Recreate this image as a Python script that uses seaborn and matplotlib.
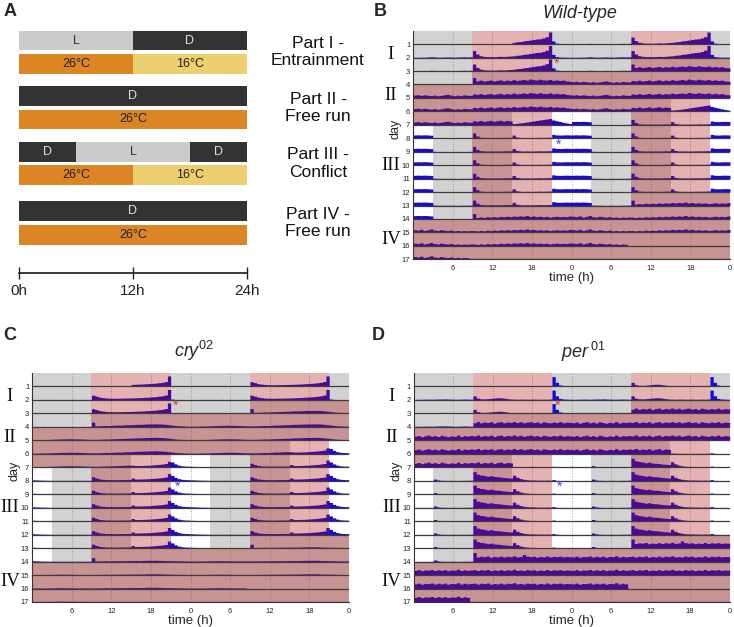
import numpy as np
import seaborn as sns
import matplotlib.pyplot as plt
from matplotlib import transforms

W, H = 734, 627

# ---- panel A: protocol ----
PARTS = ["Part I -\nEntrainment", "Part II -\nFree run", "Part III -\nConflict", "Part IV -\nFree run"]
LIGHT_SCHED = [[("L", 0, 12), ("D", 12, 24)],
               [("D", 0, 24)],
               [("D", 0, 6), ("L", 6, 18), ("D", 18, 24)],
               [("D", 0, 24)]]
TEMP_SCHED = [[(26, 0, 12), (16, 12, 24)],
              [(26, 0, 24)],
              [(26, 0, 12), (16, 12, 24)],
              [(26, 0, 24)]]

# ---- actogram backgrounds, per day 1..18 (plot hours 0-24) ----
DARK_SPANS = [[(0, 9), (21, 24)]] * 3 + [[(0, 24)]] * 3 + [[(0, 15)]] + [[(3, 15)]] * 6 + [[(3, 24)]] + [[(0, 24)]] * 4
WARM_SPANS = [[(9, 21)]] * 3 + [[(9, 24)]] + [[(0, 24)]] * 2 + [[(0, 21)]] + [[(9, 21)]] * 6 + [[(9, 24)]] + [[(0, 24)]] * 4

# ---- activity profiles, 30-min bins, fraction of row height ----
WT_LD = [0.02, 0.02, 0.03, 0.03, 0.04, 0.06, 0.05, 0.03, 0.03, 0.04, 0.05, 0.04, 0.03, 0.04, 0.05, 0.06, 0.05, 0.06,
         0.55, 0.28, 0.15, 0.10, 0.08, 0.08, 0.07, 0.08, 0.10, 0.09, 0.10, 0.12, 0.14, 0.18, 0.20, 0.25, 0.28, 0.32,
         0.36, 0.40, 0.42, 0.48, 0.58, 0.95, 0.25, 0.08, 0.04, 0.03, 0.03, 0.02]
WT_DD = [0.22, 0.25, 0.20, 0.24, 0.21, 0.18, 0.22, 0.17, 0.20, 0.25, 0.28, 0.22, 0.17, 0.21, 0.18, 0.24, 0.21, 0.20,
         0.31, 0.28, 0.34, 0.27, 0.31, 0.35, 0.28, 0.32, 0.36, 0.29, 0.34, 0.31, 0.38, 0.32, 0.35, 0.39, 0.34, 0.42,
         0.38, 0.35, 0.41, 0.36, 0.34, 0.39, 0.32, 0.36, 0.31, 0.34, 0.28, 0.25]
WT_TC = [0.26, 0.27, 0.26, 0.27, 0.26, 0.24, 0.03, 0.02, 0.02, 0.02, 0.01, 0.02, 0.02, 0.01, 0.02, 0.02, 0.02, 0.03,
         0.42, 0.18, 0.08, 0.06, 0.05, 0.06, 0.05, 0.06, 0.05, 0.06, 0.07, 0.07, 0.25, 0.10, 0.06, 0.05, 0.06, 0.05,
         0.06, 0.06, 0.07, 0.06, 0.07, 0.08, 0.30, 0.26, 0.25, 0.26, 0.27, 0.26]
WT_FR = [0.21, 0.18, 0.24, 0.15, 0.20, 0.27, 0.18, 0.15, 0.21, 0.17, 0.14, 0.18, 0.12, 0.15, 0.11, 0.14, 0.12, 0.15,
         0.14, 0.11, 0.15, 0.12, 0.17, 0.14, 0.18, 0.15, 0.20, 0.17, 0.21, 0.18, 0.23, 0.20, 0.24, 0.21, 0.27, 0.20,
         0.23, 0.18, 0.21, 0.17, 0.20, 0.15, 0.18, 0.21, 0.17, 0.20, 0.18, 0.23]
WT_D7PM = [0.10, 0.12, 0.15, 0.18, 0.22, 0.26, 0.30, 0.34, 0.38, 0.42, 0.46, 0.50,
           0.38, 0.32, 0.26, 0.20, 0.15, 0.10]

CRY_LD = [0.01, 0.01, 0.01, 0.02, 0.01, 0.01, 0.02, 0.01, 0.01, 0.02, 0.01, 0.01, 0.02, 0.01, 0.01, 0.02, 0.01, 0.02,
          0.35, 0.28, 0.20, 0.16, 0.13, 0.12, 0.11, 0.11, 0.12, 0.12, 0.13, 0.13, 0.14, 0.15, 0.16, 0.17, 0.19, 0.20,
          0.22, 0.24, 0.27, 0.30, 0.36, 0.80, 0.05, 0.02, 0.01, 0.01, 0.01, 0.01]
CRY_DD = [0.03, 0.03, 0.04, 0.05, 0.05, 0.06, 0.07, 0.08, 0.09, 0.10, 0.10, 0.11, 0.10, 0.10, 0.09, 0.08, 0.07, 0.06,
          0.06, 0.06, 0.07, 0.08, 0.09, 0.09, 0.10, 0.12, 0.12, 0.13, 0.15, 0.15, 0.16, 0.18, 0.18, 0.19, 0.20, 0.21,
          0.21, 0.22, 0.21, 0.20, 0.18, 0.15, 0.12, 0.09, 0.07, 0.06, 0.04, 0.03]
CRY_TC = [0.06, 0.05, 0.04, 0.03, 0.03, 0.02, 0.02, 0.02, 0.02, 0.02, 0.02, 0.02, 0.02, 0.02, 0.02, 0.02, 0.02, 0.02,
          0.30, 0.20, 0.13, 0.10, 0.08, 0.08, 0.07, 0.07, 0.08, 0.08, 0.08, 0.09, 0.20, 0.12, 0.12, 0.13, 0.14, 0.15,
          0.17, 0.19, 0.21, 0.24, 0.28, 0.55, 0.40, 0.25, 0.15, 0.10, 0.08, 0.07]
CRY_FR = [0.04, 0.04, 0.03, 0.04, 0.04, 0.05, 0.05, 0.06, 0.06, 0.06, 0.05, 0.06, 0.05, 0.05, 0.04, 0.05, 0.04, 0.04,
          0.04, 0.05, 0.05, 0.05, 0.06, 0.05, 0.06, 0.06, 0.06, 0.07, 0.06, 0.07, 0.07, 0.08, 0.07, 0.08, 0.09, 0.10,
          0.09, 0.10, 0.09, 0.08, 0.07, 0.07, 0.06, 0.06, 0.05, 0.05, 0.04, 0.04]
CRY_D7PM = [0.15, 0.12, 0.12, 0.13, 0.14, 0.15, 0.17, 0.19, 0.21, 0.24, 0.28, 0.45,
            0.40, 0.25, 0.15, 0.10, 0.08, 0.07]

PER_LD = [0.02, 0.03, 0.03, 0.04, 0.04, 0.03, 0.04, 0.05, 0.05, 0.06, 0.05, 0.04, 0.03, 0.03, 0.04, 0.05, 0.04, 0.03,
          0.30, 0.12, 0.07, 0.06, 0.08, 0.10, 0.13, 0.15, 0.15, 0.12, 0.08, 0.05, 0.04, 0.03, 0.04, 0.04, 0.03, 0.03,
          0.04, 0.03, 0.03, 0.04, 0.03, 0.05, 0.75, 0.30, 0.10, 0.05, 0.04, 0.03]
PER_DD = [0.30, 0.36, 0.27, 0.33, 0.39, 0.30, 0.35, 0.28, 0.38, 0.32, 0.27, 0.33, 0.30, 0.39, 0.28, 0.35, 0.32, 0.36,
          0.33, 0.40, 0.30, 0.36, 0.32, 0.38, 0.28, 0.35, 0.39, 0.30, 0.36, 0.33, 0.40, 0.32, 0.38, 0.30, 0.35, 0.39,
          0.32, 0.36, 0.28, 0.38, 0.33, 0.30, 0.36, 0.32, 0.39, 0.30, 0.35, 0.33]
PER_TC = [0.01, 0.01, 0.01, 0.01, 0.01, 0.01, 0.12, 0.05, 0.02, 0.02, 0.01, 0.02, 0.02, 0.01, 0.02, 0.02, 0.02, 0.03,
          0.70, 0.50, 0.44, 0.40, 0.34, 0.38, 0.32, 0.30, 0.28, 0.24, 0.22, 0.20, 0.42, 0.26, 0.16, 0.10, 0.07, 0.05,
          0.05, 0.04, 0.04, 0.03, 0.04, 0.03, 0.08, 0.02, 0.01, 0.01, 0.01, 0.01]
PER_FR = [0.36, 0.42, 0.34, 0.39, 0.38, 0.43, 0.35, 0.41, 0.36, 0.42, 0.34, 0.39, 0.38, 0.45, 0.35, 0.41, 0.36, 0.39,
          0.42, 0.35, 0.41, 0.38, 0.43, 0.34, 0.39, 0.36, 0.42, 0.35, 0.41, 0.38, 0.45, 0.36, 0.39, 0.35, 0.42, 0.38,
          0.41, 0.34, 0.39, 0.36, 0.43, 0.35, 0.41, 0.38, 0.42, 0.36, 0.39, 0.38]
PER_D7PM = [0.05, 0.03, 0.02, 0.02, 0.02, 0.02, 0.02, 0.02, 0.02, 0.02, 0.02, 0.03,
            0.06, 0.02, 0.01, 0.01, 0.01, 0.01]
PER_EXTRA = [(14, 33, 0.55)]  # (day, bin, value) single bout

# first recorded bin on day 1
WT_START, CRY_START, PER_START = 30, 30, 42

ROW_LABELS = [str(d) for d in range(1, 18)]
XTICK_LABELS = ["6", "12", "18", "0", "6", "12", "18", "0"]
ROMAN = ["I", "II", "III", "IV"]
ROMAN_Y = [1.75, 4.8, 10.0, 15.5]

GRAY = "#d2d2d2"
WARM = "#b01010"
BLUE = "#1a08d6"


def px_box(x0, y0, w, h):
    return [x0 / W, 1 - (y0 + h) / H, w / W, h / H]


def build_days(ld, dd, tc, fr, d7pm, start_bin, extra=()):
    days = []
    for day in range(1, 19):
        if day <= 3:
            p = ld
        elif day == 4:
            p = ld[:19] + dd[19:]
        elif day <= 6:
            p = dd
        elif day == 7:
            p = dd[:30] + d7pm
        elif day <= 13:
            p = tc
        elif day == 14:
            p = tc[:19] + fr[19:]
        else:
            p = fr
        days.append(list(p))
    for day, b, v in extra:
        days[day - 1][b] = v
    arr = np.array(days, dtype=float)
    arr[0, :start_bin] = np.nan
    arr[16, 18:] = np.nan
    arr[17, :] = np.nan
    return arr


def merge(spans):
    spans = sorted(spans)
    out = []
    for a, b in spans:
        if out and abs(out[-1][1] - a) < 1e-9:
            out[-1] = (out[-1][0], b)
        else:
            out.append((a, b))
    return out


def draw_actogram(ax, act):
    edges = np.arange(97) * 0.5
    for r in range(1, 18):
        dark, warm = [], []
        for half, day in enumerate((r, r + 1)):
            off = 24 * half
            dark += [(off + a, off + b) for a, b in DARK_SPANS[day - 1]]
            warm += [(off + a, off + b) for a, b in WARM_SPANS[day - 1]]
        ax.broken_barh([(a, b - a) for a, b in merge(dark)], (r - 1, 1), facecolors=GRAY, lw=0, zorder=0)
        ax.broken_barh([(a, b - a) for a, b in merge(warm)], (r - 1, 1), facecolors=WARM, alpha=0.32,
                       lw=0, zorder=3)
        vals = np.concatenate([act[r - 1], act[r]])
        v = np.append(vals, vals[-1])
        poly = ax.fill_between(edges, r, r - 0.95 * v, step="post", color=BLUE, lw=0, zorder=2)
        poly.set_snap(False)
    ax.vlines(np.arange(6, 48, 6), 0, 17, colors="#8c8c8c", linestyles=(0, (1, 2)), lw=0.6, zorder=1)
    ax.hlines(np.arange(1, 18), 0, 48, colors="#3c3c3c", lw=0.9, zorder=4)
    ax.set_xlim(0, 48)
    ax.set_ylim(17, 0)
    ax.set_xticks(np.arange(6, 49, 6))
    ax.set_xticklabels(XTICK_LABELS)
    ax.set_yticks(np.arange(1, 18))
    ax.set_yticklabels(ROW_LABELS)
    ax.tick_params(axis="both", labelsize=5.5, pad=2, colors="#222222")
    ax.tick_params(axis="y", length=0)
    ax.tick_params(axis="x", length=2, width=0.6)
    ax.set_xlabel("time (h)", fontsize=9.5, labelpad=0)
    sns.despine(ax=ax)
    for s in ("left", "bottom"):
        ax.spines[s].set_color("#333333")
        ax.spines[s].set_linewidth(0.8)
    tr = transforms.blended_transform_factory(ax.transAxes, ax.transData)
    for lab, y in zip(ROMAN, ROMAN_Y):
        ax.text(-0.07, y, lab, transform=tr, ha="center", va="center", fontsize=13.5,
                family="Liberation Serif", color="#111111")
    ax.text(-0.054, 7.3, "day", transform=tr, ha="center", va="center", rotation=90, fontsize=9)
    ax.text(21.8, 2.45, "*", color="#d83a30", fontsize=10, ha="center", va="center", zorder=6)
    ax.text(22.1, 8.45, "*", color="#4b3cf2", fontsize=10, ha="center", va="center", zorder=6)


def main():
    sns.set_theme(style="white")
    plt.rcParams["font.family"] = ["Liberation Sans", "DejaVu Sans"]
    plt.rcParams["mathtext.fontset"] = "custom"
    plt.rcParams["mathtext.it"] = "Liberation Sans:italic"
    plt.rcParams["mathtext.rm"] = "Liberation Sans"

    fig = plt.figure(figsize=(W / 100, H / 100), dpi=100)

    # ---- panel A ----
    ax_a = fig.add_axes(px_box(19, 0, 228, 300))
    ax_a.set_xlim(0, 24)
    ax_a.set_ylim(300, 0)
    ax_a.axis("off")
    light_c = {"L": "#cbcbcb", "D": "#333333"}
    light_t = {"L": "#333333", "D": "#dddddd"}
    temp_c = {26: "#dc8524", 16: "#edcf70"}
    light_y = [40.5, 96, 152, 211]
    temp_y = [64, 119.5, 175, 235]
    for i, part in enumerate(PARTS):
        for lab, a, b in LIGHT_SCHED[i]:
            ax_a.barh(light_y[i], b - a, left=a, height=19.5, color=light_c[lab], lw=0)
            ax_a.text((a + b) / 2, light_y[i], lab, ha="center", va="center", fontsize=9, color=light_t[lab])
        for t, a, b in TEMP_SCHED[i]:
            ax_a.barh(temp_y[i], b - a, left=a, height=19.5, color=temp_c[t], lw=0)
            ax_a.text((a + b) / 2, temp_y[i], f"{t}°C", ha="center", va="center", fontsize=9, color="#222222")
        fig.text(318 / W, 1 - (light_y[i] + temp_y[i]) / 2 / H, part, ha="center", va="center",
                 fontsize=12.5, linespacing=1.2, color="#111111")

    ax_t = fig.add_axes(px_box(19, 273, 228, 1))
    ax_t.set_xlim(0, 24)
    ax_t.set_yticks([])
    ax_t.set_xticks([0, 12, 24])
    ax_t.set_xticklabels(["0h", "12h", "24h"], fontweight="bold", fontsize=7)
    ax_t.get_xticklabels()[0].set_horizontalalignment("left")
    ax_t.tick_params(axis="x", direction="inout", length=8, width=1, pad=4, bottom=True, colors="#222222")
    for s in ("top", "left", "right"):
        ax_t.spines[s].set_visible(False)
    ax_t.spines["bottom"].set_position(("axes", 1.0))
    ax_t.spines["bottom"].set_color("#222222")
    ax_t.patch.set_alpha(0)

    # ---- actograms ----
    wt = build_days(WT_LD, WT_DD, WT_TC, WT_FR, WT_D7PM, WT_START)
    cry = build_days(CRY_LD, CRY_DD, CRY_TC, CRY_FR, CRY_D7PM, CRY_START)
    per = build_days(PER_LD, PER_DD, PER_TC, PER_FR, PER_D7PM, PER_START, PER_EXTRA)

    ax_b = fig.add_axes(px_box(413, 30.7, 317, 228.6))
    draw_actogram(ax_b, wt)
    ax_c = fig.add_axes(px_box(32, 372.7, 317, 229.3))
    draw_actogram(ax_c, cry)
    ax_d = fig.add_axes(px_box(413.7, 372.7, 316, 229.3))
    draw_actogram(ax_d, per)

    fig.text(579.5 / W, 1 - 14 / H, "Wild-type", style="italic", ha="center", va="center", fontsize=13)
    fig.text(194 / W, 1 - 351 / H, r"$cry^{02}$", ha="center", va="center", fontsize=13)
    fig.text(583 / W, 1 - 352 / H, r"$per^{\,01}$", ha="center", va="center", fontsize=13)

    for lab, x, y in [("A", 10, 12), ("B", 380, 12), ("C", 10, 335), ("D", 378, 335)]:
        fig.text(x / W, 1 - y / H, lab, ha="center", va="center", fontsize=13, fontweight="bold")

    fig.savefig("out.png", dpi=100)


if __name__ == "__main__":
    main()
